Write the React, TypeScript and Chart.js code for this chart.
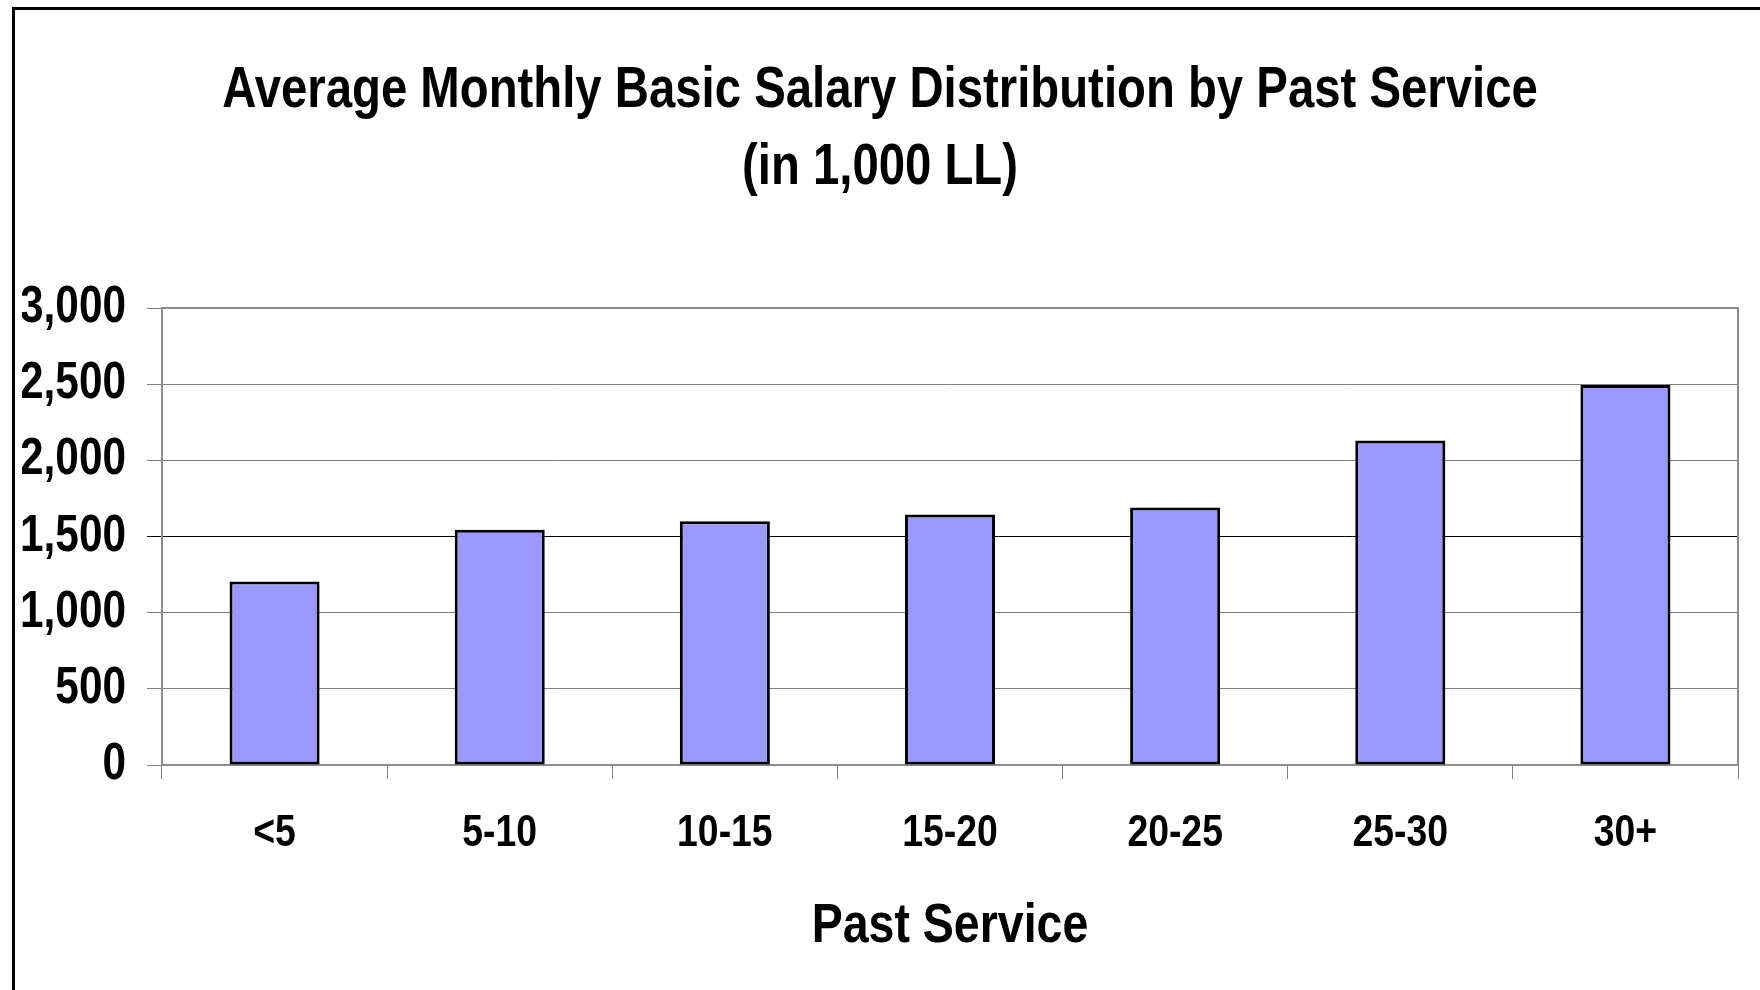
import React, { useEffect, useRef } from 'react';
import { Chart, registerables } from 'chart.js';

Chart.register(...registerables);

const categories = ['<5', '5-10', '10-15', '15-20', '20-25', '25-30', '30+'];
const salaries = [1205, 1545, 1600, 1645, 1690, 2130, 2495];
const yMin = 0;
const yMax = 3000;
const yStep = 500;
const titleLines = ['Average Monthly Basic Salary Distribution by Past Service', '(in 1,000 LL)'];
const xTitle = 'Past Service';

// The reference text is a horizontally condensed bold sans; emulate by squeezing glyphs.
const SQUEEZE = 0.83;

const plotFrame = {
  id: 'plotFrame',
  beforeDatasetsDraw(chart: any) {
    const { ctx, chartArea } = chart;
    const { left, top, right, bottom } = chartArea;
    ctx.save();
    ctx.strokeStyle = '#8c8c8c';
    ctx.lineWidth = 2;
    ctx.beginPath();
    ctx.moveTo(left, top);
    ctx.lineTo(right, top);
    ctx.lineTo(right, bottom);
    ctx.stroke();
    ctx.restore();
  },
};

export default function App() {
  const ref = useRef<HTMLCanvasElement | null>(null);

  useEffect(() => {
    if (!ref.current) return;
    const ctx2d = ref.current.getContext('2d') as any;
    const origFill = ctx2d.fillText.bind(ctx2d);
    const origMeasure = ctx2d.measureText.bind(ctx2d);
    ctx2d.fillText = (text: string, x: number, y: number, maxWidth?: number) => {
      ctx2d.save();
      ctx2d.translate(x, y);
      ctx2d.scale(SQUEEZE, 1);
      if (maxWidth === undefined) origFill(text, 0, 0);
      else origFill(text, 0, 0, maxWidth / SQUEEZE);
      ctx2d.restore();
    };
    ctx2d.measureText = (text: string) => {
      const m = origMeasure(text);
      return {
        width: m.width * SQUEEZE,
        actualBoundingBoxAscent: m.actualBoundingBoxAscent,
        actualBoundingBoxDescent: m.actualBoundingBoxDescent,
        actualBoundingBoxLeft: m.actualBoundingBoxLeft * SQUEEZE,
        actualBoundingBoxRight: m.actualBoundingBoxRight * SQUEEZE,
      };
    };

    const family = '"Liberation Sans", Arial, sans-serif';

    const chart = new Chart(ctx2d, {
      type: 'bar',
      data: {
        labels: categories,
        datasets: [
          {
            data: salaries,
            backgroundColor: '#9999FF',
            borderColor: '#000000',
            borderWidth: 3,
            borderSkipped: false,
            categoryPercentage: 1,
            barPercentage: 0.4,
          },
        ],
      },
      options: {
        animation: false,
        responsive: false,
        layout: { padding: { left: 22, top: 0, right: 22, bottom: 0 } },
        plugins: {
          legend: { display: false },
          tooltip: { enabled: false },
          title: {
            display: true,
            text: titleLines,
            color: '#000',
            font: { family, size: 57, weight: 'bold', lineHeight: 77 / 57 },
            padding: { top: 52.5, bottom: 101.5 },
          },
        },
        scales: {
          x: {
            grid: {
              offset: true,
              drawOnChartArea: false,
              drawTicks: true,
              tickLength: 14,
              color: '#808080',
              lineWidth: 1,
            },
            border: { color: '#8c8c8c', width: 2 },
            ticks: {
              color: '#000',
              padding: 28,
              font: { family, size: 45, weight: 'bold', lineHeight: 1.2 },
              maxRotation: 0,
              autoSkip: false,
            },
            title: {
              display: true,
              text: xTitle,
              color: '#000',
              font: { family, size: 56, weight: 'bold', lineHeight: 1.2 },
              padding: { top: 0, bottom: 30 },
            },
            afterFit(scale: any) {
              scale.height = 225;
            },
          },
          y: {
            min: yMin,
            max: yMax,
            grid: {
              color: (c: any) => (c.tick && c.tick.value === 1500 ? '#000000' : '#808080'),
              lineWidth: 1,
              tickLength: 15,
              drawTicks: true,
            },
            border: { color: '#8c8c8c', width: 2 },
            ticks: {
              stepSize: yStep,
              color: '#000',
              padding: 21,
              font: { family, size: 51, weight: 'bold' },
              callback: (v: any) => Number(v).toLocaleString('en-US'),
            },
            afterFit(scale: any) {
              scale.width = 140;
            },
          },
        },
      },
      plugins: [plotFrame],
    });
    return () => {
      chart.destroy();
      ctx2d.fillText = origFill;
      ctx2d.measureText = origMeasure;
    };
  }, []);

  return (
    <div
      style={{
        position: 'fixed',
        left: 0,
        top: 0,
        width: 1760,
        height: 990,
        background: '#fff',
        overflow: 'hidden',
      }}
    >
      <canvas ref={ref} width={1760} height={990} style={{ position: 'absolute', left: 0, top: 0 }} />
      <div
        style={{
          position: 'absolute',
          left: 12,
          top: 7,
          width: 1800,
          height: 1000,
          borderLeft: '3px solid #000',
          borderTop: '3px solid #000',
          pointerEvents: 'none',
        }}
      />
    </div>
  );
}
